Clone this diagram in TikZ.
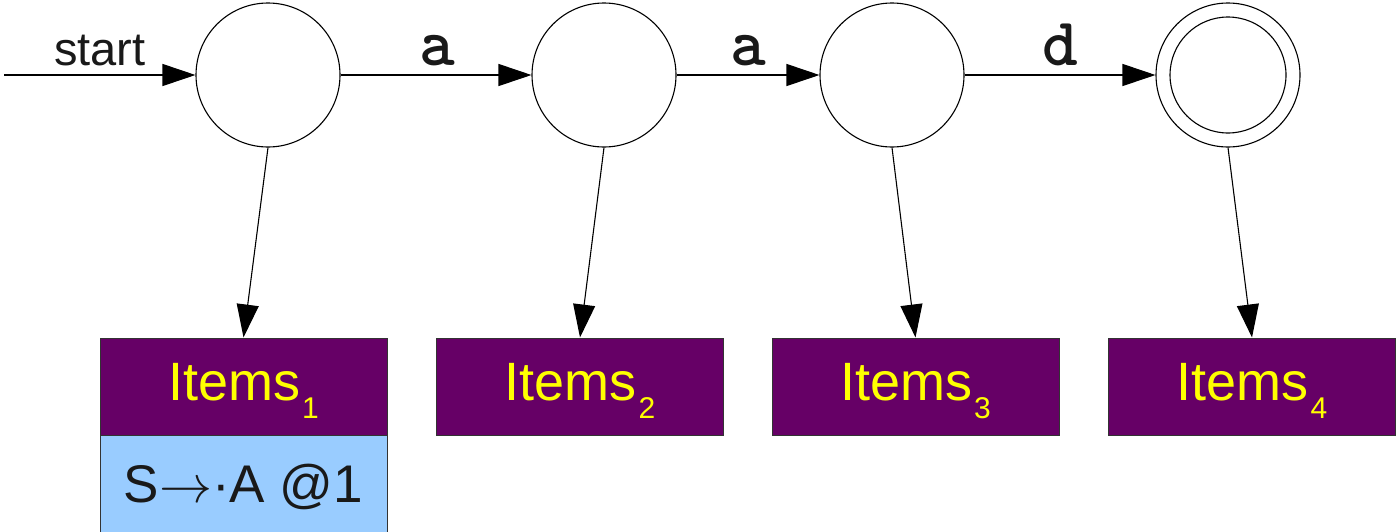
\RequirePackage{fix-cm}
\documentclass[tikz,border=0pt]{standalone}
\usepackage{fontspec}
\setmainfont{Liberation Sans}
\usetikzlibrary{arrows.meta,positioning}
\definecolor{itempurple}{HTML}{660066}
\definecolor{itemyellow}{HTML}{FFFF00}
\definecolor{itemblue}{HTML}{99CCFF}
\definecolor{boxedge}{HTML}{333333}
\newcommand{\itemslabel}[1]{{\fontsize{54}{54}\selectfont Items\hspace{2pt}\raisebox{-18pt}{\fontsize{30}{30}\selectfont #1}}}
\begin{document}
\begin{tikzpicture}[x=1pt,y=-1pt,
  state/.style={circle,draw=black,line width=1.1pt,minimum size=144pt,inner sep=0pt},
  innerstate/.style={circle,draw=black,line width=1.1pt,minimum size=116pt,inner sep=0pt},
  conn/.style={line width=1.1pt,-{Triangle[length=33pt,width=22pt]}},
  itembox/.style={rectangle,draw=boxedge,line width=1pt,fill=itempurple,text=itemyellow,
    minimum width=287pt,minimum height=97pt,inner sep=0pt,text height=44pt,text depth=17pt},
  contentbox/.style={rectangle,draw=boxedge,line width=1pt,fill=itemblue,text=black!90,
    minimum width=287pt,minimum height=100pt,inner sep=0pt,text height=40pt,text depth=6pt},
  sym/.style={font=\ttfamily\bfseries\fontsize{68}{68}\selectfont,anchor=base,inner sep=0pt,text=black!90},
  startlbl/.style={font=\fontsize{47}{47}\selectfont,anchor=base,inner sep=0pt,text=black!90}
]
\useasboundingbox (0,0) rectangle (1397,531);
\fill[white] (0,0) rectangle (1397,531);

% states
\node[state] (q1) at (268,75) {};
\node[state] (q2) at (604,75) {};
\node[state] (q3) at (892,75) {};
\node[state] (q4) at (1228,75) {};
\node[innerstate] (q4in) at (q4) {};

% start arrow
\coordinate (s0) at (4,75);
\node[startlbl] (startlabel) at (100,65) {start};
\draw[conn] (s0) -- (q1);

% transitions
\draw[conn] (q1) -- (q2);
\draw[conn] (q2) -- (q3);
\draw[conn] (q3) -- (q4);
\node[sym] (la1) at (437,65) {a};
\node[sym] (la2) at (748,65) {a};
\node[sym] (ld) at (1060,65) {d};

% item boxes
\node[itembox] (i1) at (243.5,386.5) {\itemslabel{1}};
\node[itembox] (i2) at (580,386.5) {\itemslabel{2}};
\node[itembox] (i3) at (915.5,386.5) {\itemslabel{3}};
\node[itembox] (i4) at (1252,386.5) {\itemslabel{4}};
\node[contentbox] (c1) at (243.5,485) {\fontsize{53}{53}\selectfont S$\mathord{\rightarrow}$·A @1};

% connectors to boxes
\draw[conn] (q1.south) -- (i1.north);
\draw[conn] (q2.south) -- (i2.north);
\draw[conn] (q3.south) -- (i3.north);
\draw[conn] (q4.south) -- (i4.north);
\end{tikzpicture}
\end{document}
